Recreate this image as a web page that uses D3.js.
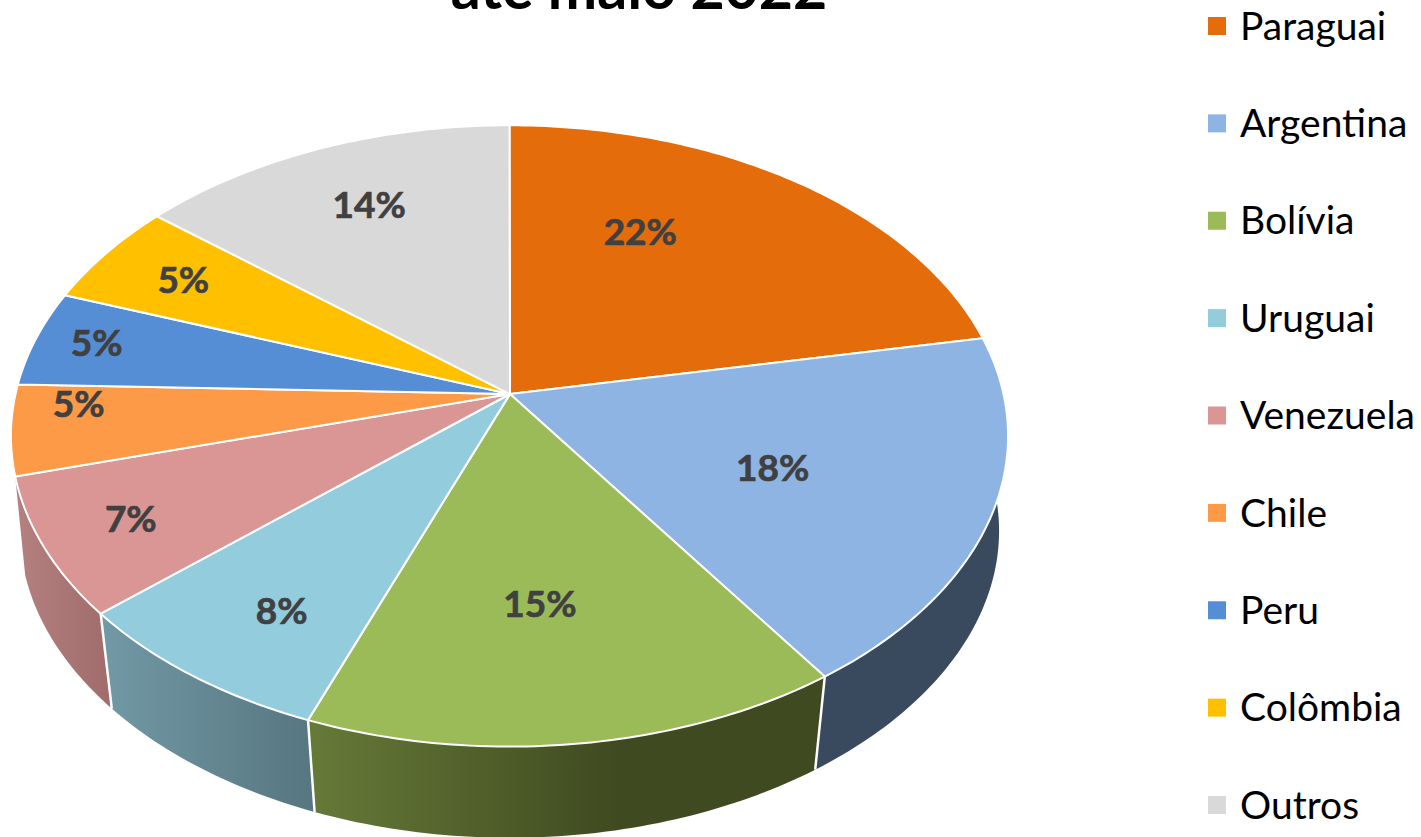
<!DOCTYPE html>
<html>
<head>
<meta charset="utf-8">
<script src="https://cdn.jsdelivr.net/npm/d3@7"></script>
<style>
  html, body { margin: 0; padding: 0; background: #fff; overflow: hidden; }
  text { font-family: Lato, "Open Sans", sans-serif; }
</style>
</head>
<body>
<div id="chart"></div>
<script>
const countries = ["Paraguai", "Argentina", "Bolívia", "Uruguai", "Venezuela", "Chile", "Peru", "Colômbia", "Outros"];
const shares = [22.0, 18.4, 15.4, 7.8, 7.2, 4.7, 5.0, 5.4, 14.1];
const topColors = ["#E46C0A", "#8DB4E3", "#9BBB59", "#93CDDD", "#D99694", "#FD9A48", "#558ED5", "#FFC000", "#D9D9D9"];
// where excel left the data labels, in degrees clockwise from the top and fraction of radius
const labelAngles = [26.5, 114.5, 174.9, 213, 242, 268, 281.3, 299.6, 335.4];
const labelRadii = [0.639, 0.567, 0.632, 0.773, 0.823, 0.869, 0.872, 0.8, 0.745];
const titleText = "até maio 2022";

const size = { width: 1421, height: 837 };

// tilted disc with a bit of perspective, so the apex sits above the middle of the ellipse
const disc = { cx: 509.5, cy: 394, rx: 494, ry: 305, persp: 0.135 };
const wall = { shrinkY: 0.972, drop: 101 };

const project = (angle, r) => {
  const X = Math.sin(angle) * r;
  const Y = -Math.cos(angle) * r;
  const k = 1 / (1 - disc.persp * Y);
  return [disc.cx + disc.rx * X * k, disc.cy + disc.ry * Y * k];
};
// bottom rim, the walls lean in more towards the viewer
const lower = ([x, y]) => {
  const near = Math.max(0, y - disc.cy) / 353;
  return [
    disc.cx + (x - disc.cx) * (0.984 - 0.018 * near),
    disc.cy + (y - disc.cy) * wall.shrinkY + wall.drop,
  ];
};

const arcPoints = (a0, a1) => {
  const n = Math.max(2, Math.ceil((a1 - a0) * 60));
  return d3.range(n + 1).map((i) => project(a0 + ((a1 - a0) * i) / n, 1));
};

const line = d3.line();

const svg = d3
  .select("#chart")
  .append("svg")
  .attr("width", size.width)
  .attr("height", size.height);

const slices = d3.pie().sort(null).value((d) => d)(shares);

// wall shading, only the slices facing the viewer have one
const wallFills = {
  1: [["0%", "#3A4A5E"], ["100%", "#3A4A5E"]],
  2: [["0%", "#667A38"], ["60%", "#3F4A20"], ["100%", "#3F4A20"]],
  3: [["0%", "#7299A6"], ["100%", "#567680"]],
  4: [["0%", "#B58080"], ["100%", "#A06B6B"]],
};
const defs = svg.append("defs");
Object.entries(wallFills).forEach(([i, stops]) => {
  defs
    .append("linearGradient")
    .attr("id", `wall-${i}`)
    .selectAll("stop")
    .data(stops)
    .join("stop")
    .attr("offset", (d) => d[0])
    .attr("stop-color", (d) => d[1]);
});

const walls = svg.append("g");
slices.forEach((s, i) => {
  if (!wallFills[i]) return;
  const pts = arcPoints(s.startAngle, s.endAngle);
  walls
    .append("path")
    .attr("d", line(pts.concat(pts.map(lower).reverse())) + "Z")
    .attr("fill", `url(#wall-${i})`);
});
// white seams where two walls meet
slices.forEach((s, i) => {
  if (!wallFills[i] || !wallFills[i + 1]) return;
  const p = project(s.endAngle, 1);
  walls
    .append("path")
    .attr("d", line([p, lower(p)]))
    .attr("stroke", "#fff")
    .attr("stroke-width", 2.5)
    .attr("fill", "none");
});

svg
  .append("g")
  .selectAll("path")
  .data(slices)
  .join("path")
  .attr("d", (s) => line([[disc.cx + 0.5, disc.cy], ...arcPoints(s.startAngle, s.endAngle)]) + "Z")
  .attr("fill", (s, i) => topColors[i])
  .attr("stroke", "#fff")
  .attr("stroke-width", 2)
  .attr("stroke-linejoin", "round");

svg
  .append("g")
  .selectAll("text")
  .data(slices)
  .join("text")
  .attr("transform", (s, i) => {
    const [x, y] = project((labelAngles[i] * Math.PI) / 180, labelRadii[i]);
    return `translate(${x},${y})`;
  })
  .attr("text-anchor", "middle")
  .attr("dy", "0.36em")
  .attr("font-size", 37)
  .attr("font-weight", 700)
  .attr("fill", "#404040")
  .attr("stroke", "#404040")
  .attr("stroke-width", 0.7)
  .text((s) => `${Math.round(s.value)}%`);

svg
  .append("text")
  .attr("x", 639)
  .attr("y", 9)
  .attr("text-anchor", "middle")
  .attr("font-size", 59)
  .attr("font-weight", 700)
  .attr("fill", "#000")
  .text(titleText);

const legendY = d3.scalePoint().domain(countries).range([26, 805]);
const legend = svg
  .append("g")
  .selectAll("g")
  .data(countries)
  .join("g")
  .attr("transform", (d) => `translate(1208,${legendY(d)})`);
legend
  .append("rect")
  .attr("y", -9)
  .attr("width", 18)
  .attr("height", 18)
  .attr("fill", (d, i) => topColors[i]);
legend
  .append("text")
  .attr("x", 32)
  .attr("dy", "0.35em")
  .attr("font-size", 39)
  .attr("fill", "#000")
  .text((d) => d);
</script>
</body>
</html>
